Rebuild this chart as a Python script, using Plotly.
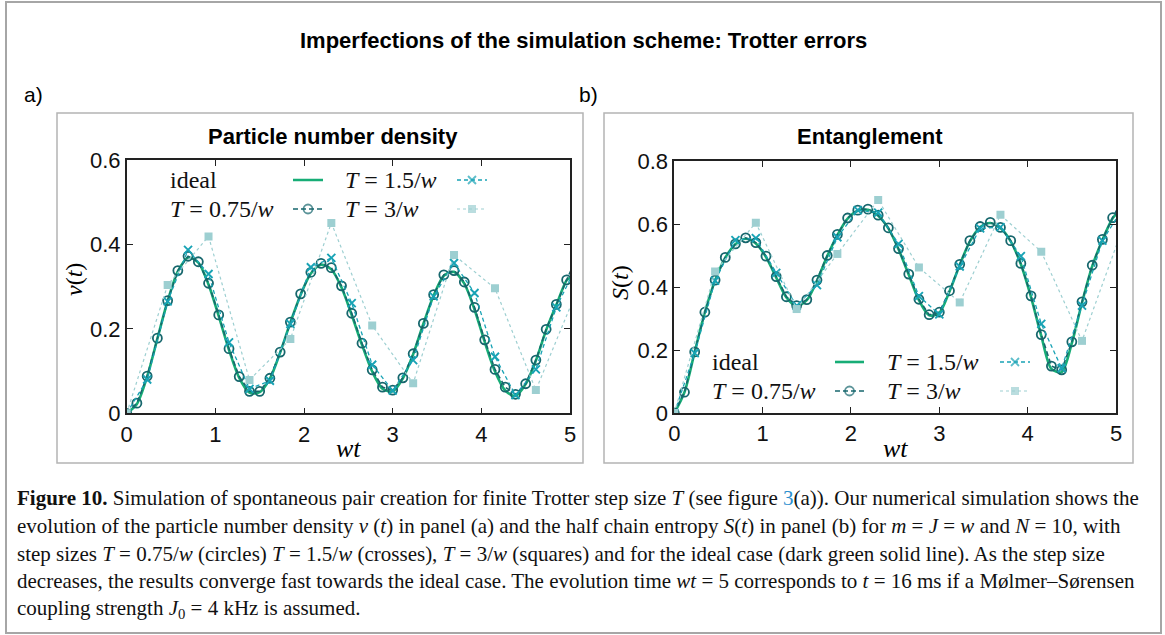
import plotly.graph_objects as go

W, H = 1165, 635

# ---------------- data ----------------
t_075 = [0, 0.115, 0.231, 0.346, 0.462, 0.577, 0.692, 0.808, 0.923, 1.038, 1.154, 1.269,
         1.385, 1.5, 1.615, 1.731, 1.846, 1.962, 2.077, 2.192, 2.308, 2.423, 2.538, 2.654,
         2.769, 2.885, 3.0, 3.115, 3.231, 3.346, 3.462, 3.577, 3.692, 3.808, 3.923, 4.038,
         4.154, 4.269, 4.385, 4.5, 4.615, 4.731, 4.846, 4.962, 5.077]
t_ideal = [0, 0.115, 0.231, 0.346, 0.462, 0.577, 0.692, 0.808, 0.923, 1.038, 1.154, 1.269,
           1.385, 1.5, 1.615, 1.731, 1.846, 1.962, 2.077, 2.192, 2.308, 2.423, 2.538, 2.654,
           2.769, 2.885, 3.0, 3.115, 3.231, 3.346, 3.462, 3.577, 3.692, 3.808, 3.923, 4.038,
           4.154, 4.269, 4.385, 4.5, 4.615, 4.731, 4.846, 4.962, 5.0]
t_15 = [0, 0.231, 0.462, 0.692, 0.923, 1.154, 1.385, 1.615, 1.846, 2.077, 2.308, 2.538,
        2.769, 3.0, 3.231, 3.462, 3.692, 3.923, 4.154, 4.385, 4.615, 4.846, 5.077]
t_3 = [0, 0.462, 0.923, 1.385, 1.846, 2.308, 2.769, 3.231, 3.692, 4.154, 4.615, 5.077]

# panel a: particle number density nu(t)
nu_ideal = [0, 0.022, 0.087, 0.177, 0.266, 0.336, 0.369, 0.357, 0.305, 0.230, 0.150, 0.084,
            0.049, 0.050, 0.082, 0.144, 0.215, 0.281, 0.331, 0.352, 0.341, 0.298, 0.233, 0.162,
            0.099, 0.058, 0.052, 0.083, 0.140, 0.212, 0.279, 0.326, 0.335, 0.307, 0.246, 0.169,
            0.099, 0.054, 0.041, 0.069, 0.125, 0.197, 0.257, 0.315, 0.321]
nu_075 = [0, 0.024, 0.088, 0.178, 0.267, 0.338, 0.372, 0.359, 0.308, 0.233, 0.153, 0.087,
          0.052, 0.052, 0.083, 0.145, 0.216, 0.283, 0.334, 0.355, 0.345, 0.302, 0.237, 0.166,
          0.103, 0.062, 0.055, 0.084, 0.141, 0.213, 0.281, 0.328, 0.338, 0.311, 0.251, 0.174,
          0.104, 0.062, 0.045, 0.070, 0.126, 0.199, 0.258, 0.316, 0.37]
nu_15 = [0, 0.080, 0.265, 0.387, 0.330, 0.168, 0.058, 0.077, 0.212, 0.346, 0.368, 0.261,
         0.115, 0.054, 0.126, 0.277, 0.356, 0.285, 0.134, 0.043, 0.104, 0.251, 0.35]
nu_3 = [0, 0.304, 0.419, 0.079, 0.176, 0.451, 0.208, 0.071, 0.375, 0.296, 0.055, 0.29]

# panel b: half chain entropy S(t)
S_ideal = [0, 0.066, 0.194, 0.320, 0.421, 0.493, 0.536, 0.553, 0.538, 0.495, 0.430, 0.367,
           0.339, 0.358, 0.420, 0.498, 0.565, 0.617, 0.642, 0.645, 0.626, 0.586, 0.520, 0.439,
           0.358, 0.310, 0.318, 0.386, 0.470, 0.545, 0.590, 0.603, 0.587, 0.545, 0.472, 0.368,
           0.245, 0.140, 0.130, 0.222, 0.350, 0.466, 0.549, 0.618, 0.630]
S_075 = [0, 0.066, 0.194, 0.320, 0.422, 0.494, 0.537, 0.556, 0.541, 0.498, 0.433, 0.369,
         0.341, 0.360, 0.422, 0.500, 0.567, 0.619, 0.644, 0.647, 0.628, 0.588, 0.522, 0.441,
         0.361, 0.312, 0.320, 0.388, 0.472, 0.547, 0.592, 0.605, 0.589, 0.547, 0.475, 0.372,
         0.249, 0.149, 0.137, 0.226, 0.353, 0.469, 0.551, 0.620, 0.68]
S_15 = [0, 0.19, 0.42, 0.549, 0.555, 0.445, 0.34, 0.406, 0.558, 0.644, 0.636, 0.537,
        0.371, 0.313, 0.465, 0.586, 0.59, 0.498, 0.283, 0.142, 0.341, 0.547, 0.65]
S_3 = [0, 0.449, 0.604, 0.330, 0.505, 0.676, 0.462, 0.351, 0.629, 0.512, 0.229, 0.588]

x_ticks = [0, 1, 2, 3, 4, 5]
x_ticktext = ["0", "1", "2", "3", "4", "5"]
ya_ticks = [0, 0.2, 0.4, 0.6]
ya_ticktext = ["0", "0.2", "0.4", "0.6"]
yb_ticks = [0, 0.2, 0.4, 0.6, 0.8]
yb_ticktext = ["0", "0.2", "0.4", "0.6", "0.8"]

legend_labels = ["ideal", "<i>T</i> = 1.5/<i>w</i>", "<i>T</i> = 0.75/<i>w</i>", "<i>T</i> = 3/<i>w</i>"]

# ---------------- styles ----------------
C_IDEAL = "#17ad76"
C_075 = "#17676d"
C_15 = "#18a3b5"
C_3 = "#9dcfd1"
SANS = "Liberation Sans, Arial, sans-serif"
SERIF = "Liberation Serif, Times New Roman, serif"

# pixel layout of plotting areas
PA = dict(x0=126.7, x1=570.0, y0=413.3, y1=160.0, xr=(0, 5), yr=(0, 0.6))
PB = dict(x0=674.3, x1=1116.0, y0=413.0, y1=161.0, xr=(0, 5), yr=(0, 0.8))


def dom(p):
    return [p["x0"] / W, p["x1"] / W], [1 - p["y0"] / H, 1 - p["y1"] / H]


def to_data(p, px, py):
    tx = p["xr"][0] + (px - p["x0"]) / (p["x1"] - p["x0"]) * (p["xr"][1] - p["xr"][0])
    ty = p["yr"][0] + (p["y0"] - py) / (p["y0"] - p["y1"]) * (p["yr"][1] - p["yr"][0])
    return tx, ty


fig = go.Figure()

styles = {
    "ideal": dict(line=dict(color=C_IDEAL, width=2.6), mode="lines", marker=None),
    "075": dict(line=dict(color=C_075, width=1.6, dash="5px,3px"), mode="lines+markers",
                marker=dict(symbol="circle-open", size=9, color=C_075, line=dict(width=1.8, color=C_075))),
    "15": dict(line=dict(color=C_15, width=1.3, dash="4px,3px"), mode="lines+markers",
               marker=dict(symbol="x-thin-open", size=8, color=C_15, line=dict(width=1.9, color=C_15))),
    "3": dict(line=dict(color=C_3, width=1.2, dash="dot"), mode="lines+markers",
              marker=dict(symbol="square", size=8, color=C_3, line=dict(width=0))),
}


def add_series(x, y, key, xa, ya):
    s = styles[key]
    kw = dict(x=x, y=y, mode=s["mode"], line=s["line"], xaxis=xa, yaxis=ya,
              showlegend=False, hoverinfo="skip")
    if key == "ideal":
        kw["line"] = dict(s["line"], shape="spline", smoothing=0.8)
    if s["marker"]:
        kw["marker"] = s["marker"]
    fig.add_trace(go.Scatter(**kw))


for (xa, ya, series) in [
    ("x", "y", [(t_ideal, nu_ideal, "ideal"), (t_075, nu_075, "075"), (t_15, nu_15, "15"), (t_3, nu_3, "3")]),
    ("x2", "y2", [(t_ideal, S_ideal, "ideal"), (t_075, S_075, "075"), (t_15, S_15, "15"), (t_3, S_3, "3")]),
]:
    for x, y, key in series:
        add_series(x, y, key, xa, ya)

annotations = []


def add_legend(p, xa, ya, rows_y, text_x, sample_x):
    keys = ["ideal", "15", "075", "3"]
    pos = [(0, 0), (1, 0), (0, 1), (1, 1)]
    for key, lab, (c, r) in zip(keys, legend_labels, pos):
        py = rows_y[r]
        annotations.append(dict(x=text_x[c] / W, y=1 - py / H, xref="paper", yref="paper",
                                text=lab, showarrow=False, xanchor="left", yanchor="middle",
                                font=dict(family=SERIF, size=24, color="#111")))
        sx0, sx1 = sample_x[c]
        d0 = to_data(p, sx0, py)
        d1 = to_data(p, (sx0 + sx1) / 2, py)
        d2 = to_data(p, sx1, py)
        s = styles[key]
        kw = dict(x=[d0[0], d1[0], d2[0]], y=[d0[1], d1[1], d2[1]], mode=s["mode"], line=s["line"],
                  xaxis=xa, yaxis=ya, showlegend=False, hoverinfo="skip")
        if s["marker"]:
            m = dict(s["marker"])
            m["size"] = [0, m["size"], 0]
            kw["marker"] = m
        fig.add_trace(go.Scatter(**kw))


add_legend(PA, "x", "y", (180, 209), (168, 343), ((293, 323), (457, 487)))
add_legend(PB, "x2", "y2", (362, 391), (710, 885), ((835, 864), (1000, 1030)))


def ann(px, py, text, size, family=SANS, angle=0, xanchor="center"):
    annotations.append(dict(x=px / W, y=1 - py / H, xref="paper", yref="paper", text=text,
                            showarrow=False, xanchor=xanchor, yanchor="middle", textangle=angle,
                            font=dict(family=family, size=size, color="#000")))


ann(583, 40, "<b>Imperfections of the simulation scheme: Trotter errors</b>", 22)
ann(22, 95, "a)", 21, xanchor="left")
ann(577, 95, "b)", 21, xanchor="left")
ann(333, 136, "<b>Particle number density</b>", 22)
ann(870, 136, "<b>Entanglement</b>", 22)
ann(348, 448, "<i>wt</i>", 26, family=SERIF)
ann(895, 448, "<i>wt</i>", 26, family=SERIF)
ann(74, 280, "<i>ν</i>(<i>t</i>)", 24, family=SERIF, angle=-90)
ann(620, 283, "<i>S</i>(<i>t</i>)", 24, family=SERIF, angle=-90)

caption = [
    "<b>Figure 10.</b> Simulation of spontaneous pair creation for finite Trotter step size <i>T</i> (see figure "
    "<span style='color:#2b8fcf'>3</span>(a)). Our numerical simulation shows the",
    "evolution of the particle number density <i>ν</i> (<i>t</i>) in panel (a) and the half chain entropy "
    "<i>S</i>(<i>t</i>) in panel (b) for <i>m</i> = <i>J</i> = <i>w</i> and <i>N</i> = 10, with",
    "step sizes <i>T</i> = 0.75/<i>w</i> (circles) <i>T</i> = 1.5/<i>w</i> (crosses), <i>T</i> = 3/<i>w</i> "
    "(squares) and for the ideal case (dark green solid line). As the step size",
    "decreases, the results converge fast towards the ideal case. The evolution time <i>wt</i> = 5 "
    "corresponds to <i>t</i> = 16 ms if a Mølmer–Sørensen",
    "coupling strength <i>J</i><sub>0</sub> = 4 kHz is assumed.",
]
for i, line in enumerate(caption):
    annotations.append(dict(x=15 / W, y=1 - (498 + 27.8 * i) / H, xref="paper", yref="paper",
                            text=line, showarrow=False, xanchor="left", yanchor="middle",
                            font=dict(family=SERIF, size=21, color="#111")))

shapes = []


def rect(x0, y0, x1, y1, color, width):
    shapes.append(dict(type="rect", xref="paper", yref="paper", x0=x0 / W, x1=x1 / W,
                       y0=1 - y1 / H, y1=1 - y0 / H, line=dict(color=color, width=width),
                       fillcolor="rgba(0,0,0,0)", layer="below"))


rect(6, 2, 1161, 633, "#a6a6a6", 2)
rect(57, 113, 583, 463, "#b4b4b4", 1.5)
rect(604, 113, 1133, 463, "#b4b4b4", 1.5)

axis_common = dict(showline=True, mirror="allticks", ticks="inside", ticklen=6, tickwidth=1.2,
                   tickcolor="#222", linecolor="#222", linewidth=1.6, showgrid=False, zeroline=False,
                   automargin=False,
                   tickfont=dict(family=SANS, size=22, color="#111"), fixedrange=True)

xa_d, ya_d = dom(PA)
xb_d, yb_d = dom(PB)

fig.update_layout(
    width=W, height=H, margin=dict(l=0, r=0, t=0, b=0, pad=0, autoexpand=False),
    paper_bgcolor="white", plot_bgcolor="white", showlegend=False,
    xaxis=dict(domain=xa_d, range=list(PA["xr"]), tickvals=x_ticks, ticktext=x_ticktext,
               anchor="y", **axis_common),
    yaxis=dict(domain=ya_d, range=list(PA["yr"]), tickvals=ya_ticks, ticktext=ya_ticktext,
               anchor="x", **axis_common),
    xaxis2=dict(domain=xb_d, range=list(PB["xr"]), tickvals=x_ticks, ticktext=x_ticktext,
                anchor="y2", **axis_common),
    yaxis2=dict(domain=yb_d, range=list(PB["yr"]), tickvals=yb_ticks, ticktext=yb_ticktext,
                anchor="x2", **axis_common),
    annotations=annotations, shapes=shapes,
)

fig.write_html("out.html", config={"displayModeBar": False},
               post_script="document.body.style.margin='0px';document.body.style.overflow='hidden';")
